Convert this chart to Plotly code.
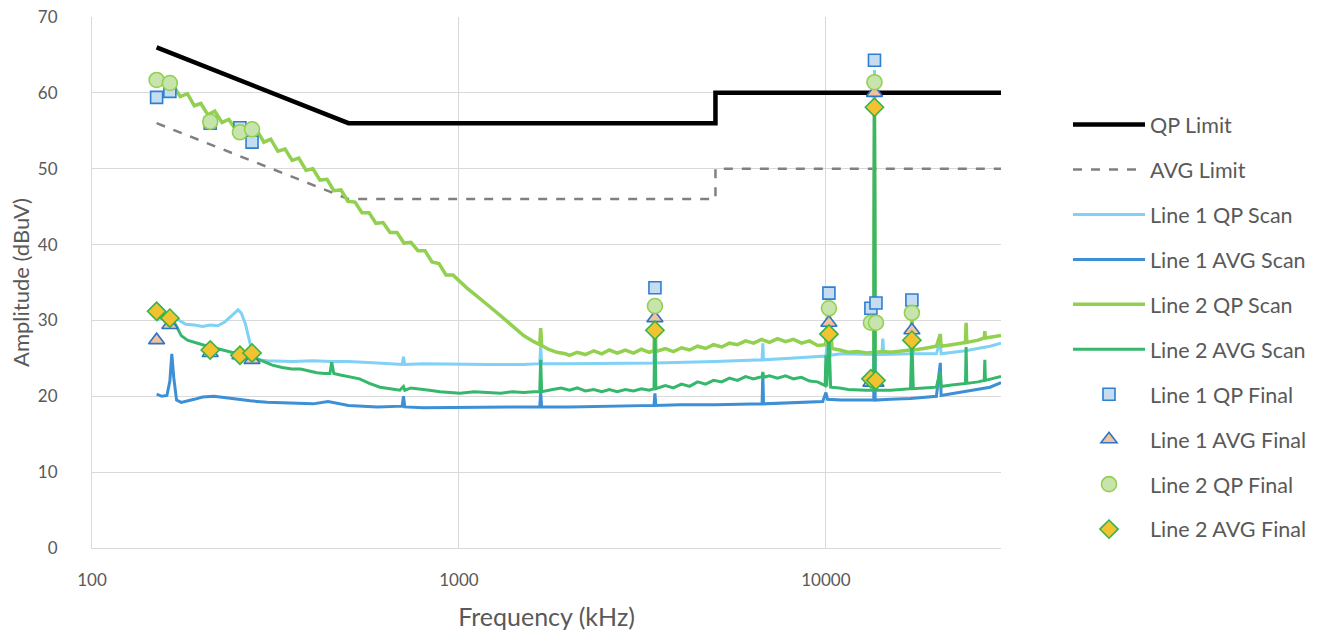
import plotly.graph_objects as go

# ---------------- data ----------------
qp_limit_f = [150, 500, 5000, 5000, 30000]
qp_limit_v = [66, 56, 56, 60, 60]
avg_limit_f = [150, 500, 5000, 5000, 30000]
avg_limit_v = [56, 46, 46, 50, 50]

l1_qp_scan_f = [150, 157, 165, 170, 180, 190, 200, 210, 220, 230, 240, 250, 255, 262, 268, 275, 285,
                300, 350, 400, 450, 500, 600, 700, 706, 712, 800, 1000, 1200, 1500, 1660, 1670, 1680,
                2000, 3000, 3400, 3420, 3440, 5000, 6700, 6730, 6760, 8000, 9500, 10000, 10190, 10300,
                11000, 12000, 13500, 13560, 13620, 14200, 14290, 14380, 15000, 17000, 17150, 17300,
                20000, 20500, 20600, 24000, 28000, 30000]
l1_qp_scan_v = [30.0, 30.5, 30.8, 30.2, 29.5, 29.4, 29.2, 29.4, 29.3, 29.8, 30.6, 31.4, 31.0, 29.5, 27.5, 25.2, 24.8,
                24.7, 24.6, 24.7, 24.6, 24.6, 24.4, 24.2, 25.2, 24.2, 24.3, 24.2, 24.2, 24.2, 24.3, 26.6, 24.3,
                24.3, 24.4, 24.4, 30.0, 24.4, 24.6, 24.8, 27.0, 24.8, 25.0, 25.2, 25.3, 29.5, 25.4,
                25.6, 25.6, 25.5, 63.0, 25.5, 25.5, 27.6, 25.5, 25.5, 25.6, 28.5, 25.6,
                25.6, 27.3, 25.6, 26.0, 26.6, 27.0]

l1_avg_scan_f = [150, 155, 160, 163, 165, 167, 170, 175, 190, 200, 215, 230, 250, 270, 300, 350, 400,
                 440, 470, 500, 600, 700, 706, 712, 800, 1000, 1300, 1660, 1670, 1680, 2000, 3000,
                 3400, 3420, 3440, 4000, 5000, 6700, 6730, 6760, 9800, 10000, 10100, 11000, 13500,
                 13560, 13620, 15000, 17000, 20000, 20500, 20600, 24000, 28000, 30000]
l1_avg_scan_v = [20.3, 20.0, 20.1, 22.0, 25.6, 22.5, 19.5, 19.2, 19.6, 19.9, 20.0, 19.8, 19.6, 19.4, 19.2, 19.1, 19.0,
                 19.3, 19.0, 18.8, 18.6, 18.7, 20.0, 18.6, 18.5, 18.5, 18.5, 18.6, 20.5, 18.6, 18.6, 18.7,
                 18.8, 20.4, 18.8, 18.9, 18.9, 19.0, 23.0, 19.0, 19.3, 20.5, 19.6, 19.5, 19.5,
                 59.5, 19.5, 19.6, 19.7, 20.0, 24.4, 20.1, 20.6, 21.2, 21.8]

l2_qp_scan_f = [150, 157, 165, 174, 182, 190, 198, 207, 216, 226, 236, 247, 258, 269, 282, 294, 307,
                321, 336, 351, 366, 383, 400, 418, 437, 456, 477, 498, 521, 544, 569, 594, 621, 649,
                678, 708, 740, 773, 808, 844, 882, 922, 963, 1000, 1050, 1100, 1150, 1200, 1300, 1400,
                1500, 1600, 1660, 1670, 1680, 1750, 1850, 1950, 2000, 2100, 2210, 2330, 2450, 2570,
                2700, 2840, 2990, 3140, 3300, 3400, 3420, 3440, 3650, 3840, 4040, 4250, 4470, 4700,
                4940, 5200, 5460, 5740, 6040, 6350, 6680, 7020, 7380, 7760, 8160, 8580, 9020, 9490,
                9980, 10190, 10400, 10900, 11500, 12200, 12900, 13500, 13560, 13620, 14300, 15000,
                16000, 17000, 17150, 17300, 18500, 20000, 20500, 20600, 22000, 24000, 24100, 24200,
                26000, 27000, 27100, 27200, 30000]
l2_qp_scan_v = [61.5, 61.3, 61.3, 59.5, 59.9, 58.3, 58.6, 57.1, 57.6, 56.1, 56.5, 55.1, 55.7, 54.3, 55.0, 53.5, 53.9,
                52.3, 52.6, 51.1, 51.4, 49.8, 50.0, 48.5, 48.6, 47.1, 47.2, 45.7, 45.6, 44.2, 44.2, 42.8, 42.9, 41.6,
                41.6, 40.2, 40.3, 39.2, 39.2, 37.7, 37.5, 36.0, 36.0, 35.2, 34.3, 33.5, 32.8, 32.0, 30.6, 29.2,
                28.0, 27.2, 26.8, 29.0, 26.7, 26.2, 25.8, 25.6, 25.4, 25.8, 25.5, 26.0, 25.6, 26.1,
                25.7, 26.1, 25.7, 26.2, 25.8, 26.0, 31.8, 25.9, 26.3, 25.9, 26.4, 26.1, 26.6, 26.3,
                26.8, 26.5, 27.0, 26.8, 27.3, 27.0, 27.5, 27.1, 27.6, 27.2, 27.5, 27.0, 27.3, 26.7,
                26.8, 31.5, 26.3, 26.1, 25.8, 25.9, 25.7, 25.8, 61.4, 25.8, 25.9, 25.8,
                26.0, 26.1, 30.9, 26.1, 26.3, 26.6, 28.2, 26.6, 26.8, 27.1, 29.7, 27.1,
                27.4, 27.7, 28.6, 27.7, 28.0]

l2_avg_scan_f = [150, 157, 165, 170, 175, 182, 190, 200, 211, 225, 240, 253, 270, 290, 310, 330, 350,
                 370, 390, 410, 430, 445, 450, 456, 475, 500, 536, 570, 609, 650, 690, 706, 712, 740,
                 783, 830, 888, 950, 1006, 1100, 1200, 1300, 1400, 1500, 1600, 1660, 1670, 1680, 1800,
                 1900, 2000, 2100, 2210, 2330, 2450, 2570, 2700, 2840, 2990, 3140, 3300, 3400, 3420,
                 3440, 3650, 3840, 4040, 4250, 4470, 4700, 4940, 5200, 5460, 5740, 6040, 6350, 6700,
                 6730, 6760, 7020, 7380, 7760, 8160, 8580, 9020, 9490, 9950, 10000, 10050, 10190,
                 10300, 10900, 11500, 12200, 12900, 13500, 13560, 13620, 14300, 15000, 16000, 17000,
                 17150, 17300, 18500, 20000, 20500, 20600, 22000, 24000, 24100, 24200, 26000, 27000,
                 27100, 27200, 30000]
l2_avg_scan_v = [31.2, 30.8, 30.3, 29.2, 28.0, 27.4, 27.1, 26.8, 26.5, 26.1, 25.8, 25.7, 25.3, 24.7, 24.1, 23.8, 23.6,
                 23.6, 23.3, 23.1, 23.0, 23.0, 24.5, 23.0, 22.8, 22.6, 22.3, 21.7, 21.2, 21.0, 20.8, 21.3, 20.8, 21.1,
                 21.0, 20.8, 20.6, 20.5, 20.4, 20.6, 20.5, 20.4, 20.6, 20.5, 20.6, 20.6, 24.8, 20.6, 20.9,
                 21.1, 20.8, 21.1, 20.7, 20.9, 20.6, 20.9, 20.6, 20.9, 20.7, 21.0, 20.8, 21.0, 28.7,
                 21.0, 21.4, 21.1, 21.6, 21.3, 21.9, 21.6, 22.1, 21.9, 22.4, 22.1, 22.6, 22.3, 22.6,
                 23.2, 22.5, 22.7, 22.4, 22.7, 22.3, 22.5, 22.0, 21.9, 21.4, 25.4, 21.3, 28.2,
                 21.2, 21.1, 20.9, 20.8, 20.8, 20.8, 58.3, 20.8, 20.8, 20.8, 20.9, 21.0,
                 27.6, 21.0, 21.1, 21.2, 23.3, 21.3, 21.5, 21.7, 26.5, 21.7, 21.9, 22.1,
                 24.8, 22.1, 22.6]

final_f = [150, 163, 210, 253, 273, 3420, 10190, 13260, 13560, 13690, 17150]
l1_qp_final = [59.4, 60.2, 56.0, 55.4, 53.5, 34.3, 33.6, 31.6, 64.3, 32.3, 32.7]
l1_avg_final = [27.4, 29.4, 25.7, 25.4, 24.8, 30.3, 29.7, 21.8, 60.0, 21.8, 28.7]
l2_qp_final = [61.7, 61.3, 56.2, 54.8, 55.2, 31.9, 31.6, 29.7, 61.4, 29.7, 31.0]
l2_avg_final = [31.2, 30.3, 26.1, 25.4, 25.7, 28.7, 28.2, 22.3, 58.1, 22.1, 27.4]

x_ticks = [100, 1000, 10000]
x_tick_text = ["100", "1000", "10000"]

# ---------------- figure ----------------
FONT = "Lato"
TXT = "#595959"
GRID = "#d9d9d9"

fig = go.Figure()

def line_trace(name, f, v, color, width, dash="solid"):
    fig.add_trace(go.Scatter(x=f, y=v, mode="lines", name=name, legendgroup=name,
                             line=dict(color=color, width=width, dash=dash)))

def marker_trace(name, f, v, symbol, fill, edge, size, ew):
    fig.add_trace(go.Scatter(x=f, y=v, mode="markers", name=name, legendgroup=name,
                             marker=dict(symbol=symbol, color=fill, size=size,
                                         line=dict(color=edge, width=ew))))

line_trace("QP Limit", qp_limit_f, qp_limit_v, "#000000", 4.5)
line_trace("AVG Limit", avg_limit_f, avg_limit_v, "#808080", 2.5, "dash")
line_trace("Line 1 QP Scan", l1_qp_scan_f, l1_qp_scan_v, "#7fd1f5", 3)
line_trace("Line 1 AVG Scan", l1_avg_scan_f, l1_avg_scan_v, "#3d8fd6", 3)
line_trace("Line 2 QP Scan", l2_qp_scan_f, l2_qp_scan_v, "#92d050", 3.5)
line_trace("Line 2 AVG Scan", l2_avg_scan_f, l2_avg_scan_v, "#36b86c", 3)
marker_trace("Line 1 QP Final", final_f, l1_qp_final, "square", "#c6dcf1", "#2e7fd0", 12, 1.6)
marker_trace("Line 1 AVG Final", final_f, l1_avg_final, "triangle-up", "#f5c19b", "#2e74c8", 14, 1.6)
marker_trace("Line 2 QP Final", final_f, l2_qp_final, "circle", "#c8e4ad", "#92d050", 15, 1.6)
marker_trace("Line 2 AVG Final", final_f, l2_avg_final, "diamond", "#f2c230", "#36b44a", 14, 1.6)

fig.update_layout(
    width=1325, height=633,
    margin=dict(l=92, r=324, t=17, b=85),
    paper_bgcolor="white", plot_bgcolor="white",
    font=dict(family=FONT, color=TXT, size=17),
    showlegend=True,
    legend=dict(x=1.0737, y=0.836, xanchor="left", yanchor="top",
                font=dict(family=FONT, size=21.5, color=TXT),
                tracegroupgap=14, itemwidth=72, traceorder="grouped",
                borderwidth=0, bgcolor="rgba(0,0,0,0)"),
)
fig.update_xaxes(type="log", range=[2, 4.4771], tickvals=x_ticks, ticktext=x_tick_text,
                 showgrid=True, gridcolor=GRID, gridwidth=1, showline=True, linecolor=GRID,
                 ticks="", ticklabelstandoff=17, tickfont=dict(size=17, color=TXT),
                 title=dict(text="Frequency (kHz)", font=dict(size=25, color=TXT), standoff=19),
                 zeroline=False, automargin=False)
fig.update_yaxes(range=[0, 70], dtick=10, showgrid=True, gridcolor=GRID, gridwidth=1,
                 showline=True, linecolor=GRID, ticks="", ticklabelstandoff=30,
                 tickfont=dict(size=17, color=TXT), zeroline=False, automargin=False,
                 title=dict(text="Amplitude (dBuV)", font=dict(size=22, color=TXT), standoff=2))

# remove the default 8px page margin so the figure fills the window exactly
fig.write_html("out.html", config={"displayModeBar": False},
               post_script="document.body.style.margin='0';")
